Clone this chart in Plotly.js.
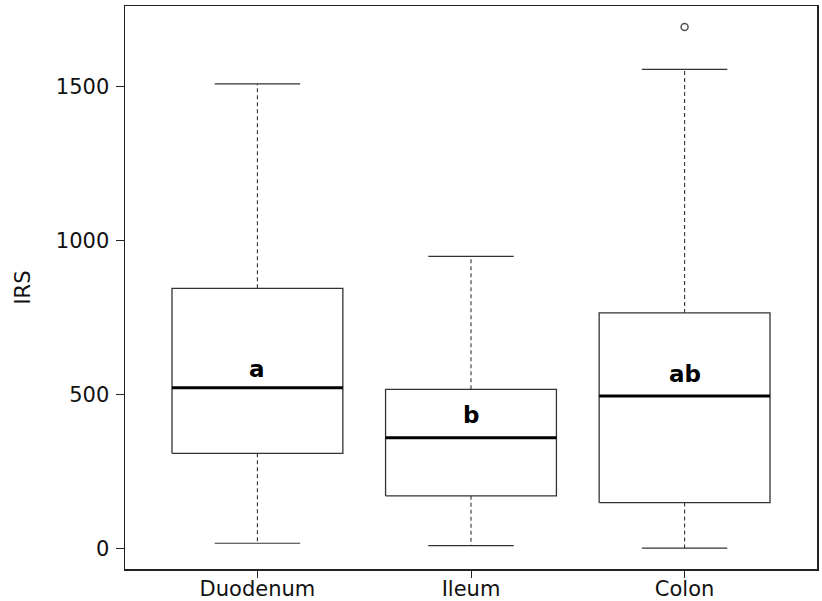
<!DOCTYPE html>
<html><head><meta charset="utf-8">
<script src="https://cdn.plot.ly/plotly-3.0.1.min.js"></script>
<style>html,body{margin:0;padding:0;background:#fff}</style>
</head><body><div id="chart" style="width:822px;height:601px"></div>
<script>
// ---- data ----
const categories   = ['Duodenum', 'Ileum', 'Colon'];
const lowerWhisker = [16, 8, 0];
const q1           = [308, 170, 148];
const median       = [521, 359, 494];
const q3           = [844, 516, 764];
const upperWhisker = [1508, 948, 1555];
const outlierCat   = ['Colon'];
const outlierVal   = [1693];
const groupLetters = ['a', 'b', 'ab'];
const letterY      = [552, 403, 536];
const yTicks       = [0, 500, 1000, 1500];

const FONT = 'DejaVu Sans, Liberation Sans, Arial, sans-serif';
const traces = [];
const hw = 0.4, cw = 0.2;
categories.forEach((c, i) => {
  const x = i + 1;
  // whiskers (dashed)
  traces.push({type:'scatter', mode:'lines', showlegend:false, hoverinfo:'skip',
    x:[x, x, null, x, x], y:[q3[i], upperWhisker[i], null, q1[i], lowerWhisker[i]],
    line:{color:'#333', width:1.1, dash:'4px,3px'}});
  // caps
  traces.push({type:'scatter', mode:'lines', showlegend:false, hoverinfo:'skip',
    x:[x-cw, x+cw, null, x-cw, x+cw], y:[upperWhisker[i], upperWhisker[i], null, lowerWhisker[i], lowerWhisker[i]],
    line:{color:'#333', width:1.2}});
  // box
  traces.push({type:'scatter', mode:'lines', showlegend:false, hoverinfo:'skip',
    x:[x-hw, x+hw, x+hw, x-hw, x-hw], y:[q1[i], q1[i], q3[i], q3[i], q1[i]],
    line:{color:'#333', width:1.3}});
  // median
  traces.push({type:'scatter', mode:'lines', showlegend:false, hoverinfo:'skip',
    x:[x-hw, x+hw], y:[median[i], median[i]],
    line:{color:'#000', width:3}});
});
traces.push({type:'scatter', mode:'markers', showlegend:false, hoverinfo:'skip',
  x: outlierCat.map(c => categories.indexOf(c) + 1), y: outlierVal,
  marker:{symbol:'circle-open', size:7, color:'#555', line:{width:1.5, color:'#555'}}});

const annotations = categories.map((c, i) => ({
  x: i + 1, y: letterY[i], xref:'x', yref:'y', text: groupLetters[i], showarrow:false,
  yanchor:'bottom', yshift:-6, font:{family:'DejaVu Sans, sans-serif', size:23, color:'#000', weight:'bold'}
}));

const layout = {
  width:822, height:601,
  margin:{l:125, r:5, t:6, b:32},
  paper_bgcolor:'#fff', plot_bgcolor:'#fff',
  font:{family:FONT, size:21, color:'#111'},
  showlegend:false,
  xaxis:{range:[0.38, 3.62], tickvals:[1,2,3], ticktext:categories,
    showline:true, mirror:true, linecolor:'#222', linewidth:1.5,
    ticks:'outside', ticklen:7, tickcolor:'#222', tickwidth:1, ticklabelstandoff:-7,
    showgrid:false, zeroline:false, tickfont:{family:FONT, size:21, color:'#111'}},
  yaxis:{range:[-67.7, 1761], tickvals:yTicks, ticktext:yTicks.map(String),
    showline:true, mirror:true, linecolor:'#222', linewidth:1.5,
    ticks:'outside', ticklen:8, tickcolor:'#222', tickwidth:1, ticklabelstandoff:2,
    showgrid:false, zeroline:false, tickfont:{family:FONT, size:21, color:'#111'},
    title:{text:'IRS', font:{family:FONT, size:21, color:'#111'}, standoff:19}},
  annotations: annotations
};
Plotly.newPlot('chart', traces, layout, {staticPlot:true, displayModeBar:false});
</script></body></html>
